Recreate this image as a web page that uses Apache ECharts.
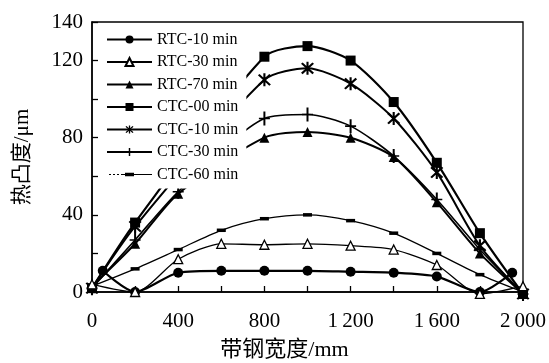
<!DOCTYPE html>
<html><head><meta charset="utf-8">
<script src="https://cdn.jsdelivr.net/npm/echarts@6/dist/echarts.min.js"></script>
<style>html,body{margin:0;padding:0;background:#fff}#c{width:549px;height:363px}</style>
</head><body><div id="c"></div>
<script>
const seriesNames = ['RTC-10 min','RTC-30 min','RTC-70 min','CTC-00 min','CTC-10 min','CTC-30 min','CTC-60 min'];
const xRTC10 = [50,200,400,600,800,1000,1200,1400,1600,1800,1950];
const yRTC10 = [11,0,10,11,11,11,10.5,10,8,0,10];
const xRTC30 = [0,200,400,600,800,1000,1200,1400,1600,1800,2000];
const yRTC30 = [4,0,17,25,24.5,25,24,22,14,-1,3];
const xRTC70 = [0,200,400,800,1000,1200,1400,1600,1800,2000];
const yRTC70 = [3,25,51,80,83,80,70,46.5,20,-1];
const xCTC00 = [0,200,800,1000,1200,1400,1600,1800,2000];
const yCTC00 = [2,36,122,127.5,120,98.5,67,30.5,-1];
const xCTC10 = [0,200,800,1000,1200,1400,1600,1800,2000];
const yCTC10 = [2,34,110,116,108,90,62,24,-1];
const xCTC30 = [0,200,400,800,1000,1200,1400,1600,1800,2000];
const yCTC30 = [2,27,52,90,92,86,70.5,48,22,-1];
const xCTC60 = [0,200,400,600,800,1000,1200,1400,1600,1800,2000];
const yCTC60 = [3,12,22,32,38,40,37,30.5,20,9,0];
const yTickLabels = [0,40,80,120,140];
const xTickLabels = [0,400,800,1200,1600,2000];

const pair = (xs, ys) => xs.map((x, i) => [x, ys[i]]);
const SERIF = "'Liberation Serif', 'Noto Sans CJK SC', serif";
const starPath = 'path://M-8 -7 L6 9 L8 7 L-6 -9 Z M8 -7 L6 -9 L-8 7 L-6 9 Z M-1.3 -10 L-1.3 10 L1.3 10 L1.3 -10 Z';
const plusPath = 'path://M-0.9 -8 L-0.9 8 L0.9 8 L0.9 -8 Z M-5 -0.9 L-5 0.9 L5 0.9 L5 -0.9 Z';
const dashLegendIcon = 'path://M0 0 L0.01 0 L0.01 0.01 Z M45 10 L44.99 10 L44.99 9.99 Z ' +
  'M2 4.4 L4 4.4 L4 5.6 L2 5.6 Z M6 4.4 L8 4.4 L8 5.6 L6 5.6 Z M10 4.4 L12 4.4 L12 5.6 L10 5.6 Z M14 4.4 L45 4.4 L45 5.6 L14 5.6 Z ' +
  'M18 3.2 L27 3.2 L27 6.8 L18 6.8 Z';

const styles = [
  {symbol:'circle', symbolSize:10, width:2.2, fill:'#000'},
  {symbol:'triangle', symbolSize:9, width:1.3, fill:'#fff'},
  {symbol:'triangle', symbolSize:10, width:2, fill:'#000'},
  {symbol:'rect', symbolSize:10, width:2.2, fill:'#000'},
  {symbol:starPath, symbolSize:[13,13], width:2, fill:'#000'},
  {symbol:plusPath, symbolSize:[11,14], width:1.6, fill:'#000'},
  {symbol:'rect', symbolSize:[9,3.5], width:1.3, fill:'#000'}
];
const datas = [pair(xRTC10,yRTC10), pair(xRTC30,yRTC30), pair(xRTC70,yRTC70), pair(xCTC00,yCTC00), pair(xCTC10,yCTC10), pair(xCTC30,yCTC30), pair(xCTC60,yCTC60)];

const series = seriesNames.map((n, i) => ({
  name: n, type: 'line', data: datas[i], smooth: 0.25, clip: false,
  symbol: styles[i].symbol, symbolSize: styles[i].symbolSize, showAllSymbol: true,
  lineStyle: {color:'#000', width: styles[i].width},
  itemStyle: {color: styles[i].fill, borderColor:'#000', borderWidth: styles[i].fill === '#fff' ? 1.3 : 0},
  emphasis: {disabled: true}, z: i === 1 ? 3 : 2
}));

const legendData = seriesNames.map((n, i) => i === 6 ? {name: n, icon: dashLegendIcon, itemStyle: {color:'#000'}} : {name: n});

const chart = echarts.init(document.getElementById('c'), null, {renderer:'canvas'});
chart.setOption({
  backgroundColor: '#fff',
  animation: false,
  grid: {left: 92, right: 26, top: 22, bottom: 71, show: true, borderColor:'#000', borderWidth: 1.3, backgroundColor:'transparent', outerBoundsMode: 'none', containLabel: false},
  legend: {
    orient: 'vertical', left: 100, top: 27.5, itemWidth: 45, itemHeight: 10, itemGap: 6.5,
    padding: [4, 8, 6, 6], backgroundColor: '#fff', z: 10,
    textStyle: {fontFamily: SERIF, fontSize: 16, color:'#000', lineHeight: 16},
    data: legendData
  },
  xAxis: {
    type: 'value', min: 0, max: 2000, interval: 200,
    name: '带钢宽度/mm', nameLocation: 'middle', nameGap: 47,
    nameTextStyle: {fontFamily: SERIF, fontSize: 22, color:'#000', padding: [0, 46, 0, 0]},
    axisLine: {lineStyle: {color:'#000', width: 1.5}},
    axisTick: {inside: true, length: 6, lineStyle: {color:'#000', width: 1.3}},
    axisLabel: {margin: 19, fontFamily: SERIF, fontSize: 21, color:'#000',
      formatter: v => xTickLabels.includes(v) ? (v >= 1000 ? String(v).slice(0,1) + '\u2009' + String(v).slice(1) : String(v)) : ''},
    splitLine: {show: false}
  },
  yAxis: {
    type: 'value', min: 0, max: 140, interval: 20,
    name: '热凸度/μm', nameLocation: 'middle', nameGap: 59, nameRotate: 90,
    nameTextStyle: {fontFamily: SERIF, fontSize: 21, color:'#000'},
    axisLine: {show: true, lineStyle: {color:'#000', width: 1.5}},
    axisTick: {show: true, inside: true, length: 6, lineStyle: {color:'#000', width: 1.3}},
    axisLabel: {margin: 9, fontFamily: SERIF, fontSize: 21, color:'#000',
      formatter: v => yTickLabels.includes(v) ? String(v) : ''},
    splitLine: {show: false}
  },
  series: series
});
</script></body></html>
